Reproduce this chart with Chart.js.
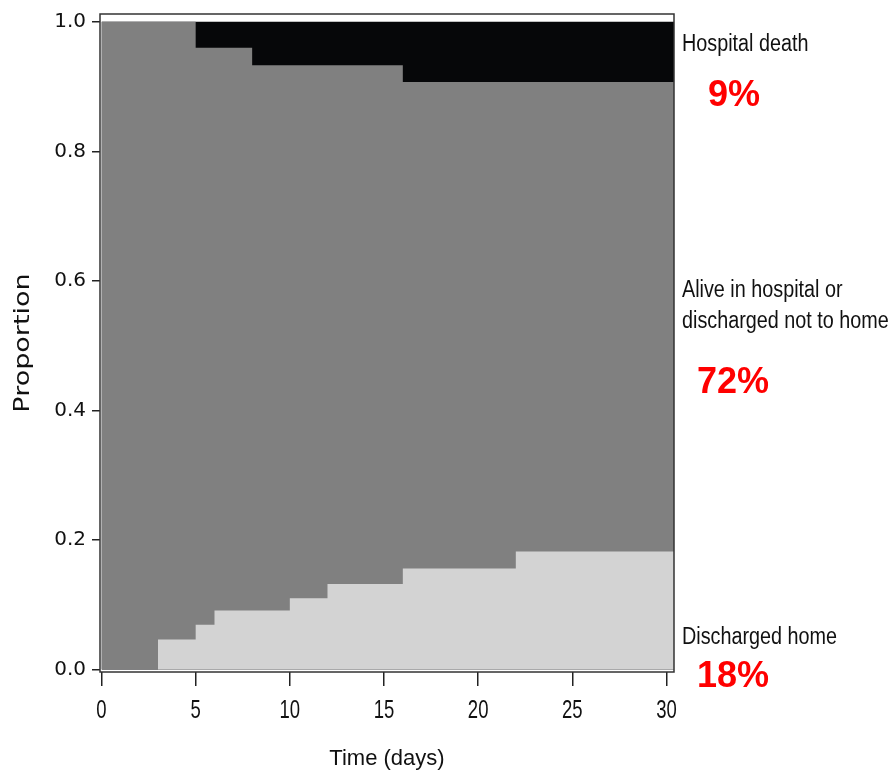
<!DOCTYPE html>
<html>
<head>
<meta charset="utf-8">
<script src="https://cdn.jsdelivr.net/npm/chart.js@4"></script>
<style>
  html, body { margin: 0; padding: 0; background: #fff; }
  #wrap { width: 893px; height: 776px; }
</style>
</head>
<body>
<div id="wrap"><canvas id="chart"></canvas></div>
<script>
// --- datos ---
const homeTimes = [0, 3, 5, 6, 10, 12, 16, 22, 30.4];
const homeValues = [0, 0.046, 0.069, 0.091, 0.110, 0.132, 0.156, 0.182, 0.182];
const deathTimes = [0, 5, 8, 16, 30.4];
const deathValues = [0, 0.040, 0.067, 0.093, 0.093];
const topTimes = [0, 30.4];
const topValues = [1, 1];
const xTicks = [0, 5, 10, 15, 20, 25, 30];
const yTicks = [0, 0.2, 0.4, 0.6, 0.8, 1.0];
const stateLabels = ['Hospital death', 'Alive in hospital or', 'discharged not to home', 'Discharged home'];
const stateShares = ['9%', '72%', '18%'];

const toPoints = (xs, ys) => xs.map((x, i) => ({ x, y: ys[i] }));
const aliveTop = deathValues.map(v => 1 - v);

const sans = "'Liberation Sans', Arial, sans-serif";

// texto comprimido en horizontal (la fuente original es estrecha)
const squishText = (ctx, text, x, y, sx, align) => {
  ctx.save();
  ctx.translate(x, y);
  ctx.scale(sx, 1);
  ctx.textAlign = align;
  ctx.fillText(text, 0, 0);
  ctx.restore();
};

// marco, etiquetas del eje x, título del eje y y textos a la derecha
const framePlugin = {
  id: 'frame',
  afterDraw(chart) {
    const { ctx, chartArea: a, scales: { x, y } } = chart;
    ctx.save();
    ctx.strokeStyle = '#333';
    ctx.lineWidth = 1.5;
    ctx.strokeRect(a.left, a.top, a.right - a.left, a.bottom - a.top);

    ctx.fillStyle = '#111';
    ctx.textBaseline = 'middle';
    ctx.font = '25px ' + sans;
    xTicks.forEach(v => squishText(ctx, String(v), x.getPixelForValue(v), a.bottom + 39, 0.74, 'center'));

    // título del eje y, girado
    ctx.save();
    ctx.translate(23, (a.top + a.bottom) / 2);
    ctx.rotate(-Math.PI / 2);
    ctx.scale(1, 0.8);
    ctx.font = "27px 'DejaVu Sans', sans-serif";
    ctx.textAlign = 'center';
    ctx.fillText('Proportion', 0, 0);
    ctx.restore();

    const x0 = a.right + 8;
    ctx.font = '23px ' + sans;
    squishText(ctx, stateLabels[0], x0, y.getPixelForValue(0.965), 0.86, 'left');
    squishText(ctx, stateLabels[1], x0, y.getPixelForValue(0.585), 0.86, 'left');
    squishText(ctx, stateLabels[2], x0, y.getPixelForValue(0.537), 0.86, 'left');
    squishText(ctx, stateLabels[3], x0, y.getPixelForValue(0.049), 0.86, 'left');

    ctx.fillStyle = '#ff0000';
    ctx.font = 'bold 36px ' + sans;
    ctx.textAlign = 'left';
    ctx.fillText(stateShares[0], x0 + 26, y.getPixelForValue(0.885));
    ctx.fillText(stateShares[1], x0 + 15, y.getPixelForValue(0.442));
    ctx.fillText(stateShares[2], x0 + 15, y.getPixelForValue(-0.012));
    ctx.restore();
  }
};

const ctx = document.getElementById('chart').getContext('2d');
new Chart(ctx, {
  type: 'line',
  data: {
    datasets: [
      { data: toPoints(homeTimes, homeValues), backgroundColor: '#d3d3d3', fill: 'origin' },
      { data: toPoints(deathTimes, aliveTop), backgroundColor: '#808080', fill: 'origin' },
      { data: toPoints(topTimes, topValues), backgroundColor: '#060709', fill: 'origin' }
    ]
  },
  options: {
    responsive: true,
    maintainAspectRatio: false,
    animation: false,
    datasets: { line: { stepped: 'before', borderWidth: 0, pointRadius: 0, tension: 0 } },
    layout: { padding: { top: 14, right: 219, left: 0, bottom: 0 } },
    plugins: { legend: { display: false }, tooltip: { enabled: false } },
    scales: {
      x: {
        type: 'linear',
        min: -0.08,
        max: 30.4,
        afterBuildTicks: s => { s.ticks = xTicks.map(v => ({ value: v })); },
        afterFit: s => { s.height = 104; s.paddingLeft = 0; s.paddingRight = 0; },
        grid: { drawOnChartArea: false, tickLength: 14, color: '#222', lineWidth: 1.5 },
        border: { display: false },
        ticks: { display: false },
        title: { display: true, text: 'Time (days)', color: '#111', padding: { top: 0, bottom: 4 },
                 font: { family: sans, size: 22, lineHeight: 1.2 } }
      },
      y: {
        min: -0.004,
        max: 1.012,
        afterBuildTicks: s => { s.ticks = yTicks.map(v => ({ value: v })); },
        afterFit: s => { s.width = 100; s.paddingTop = 0; s.paddingBottom = 0; },
        grid: { drawOnChartArea: false, tickLength: 8, color: '#222', lineWidth: 1.5 },
        border: { display: false },
        ticks: { padding: 6, color: '#111', font: { family: 'DejaVu Sans', size: 20 },
                 callback: v => v.toFixed(1) },
        title: { display: false }
      }
    }
  },
  plugins: [framePlugin]
});
</script>
</body>
</html>
